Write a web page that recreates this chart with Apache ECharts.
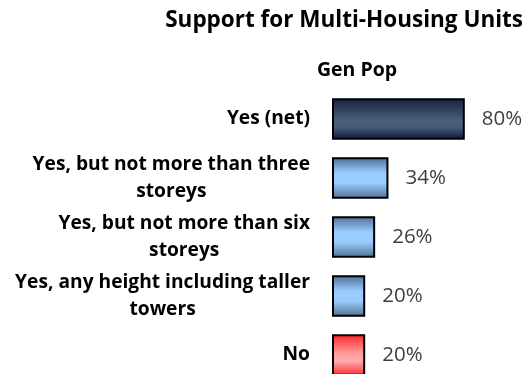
<!DOCTYPE html>
<html><head><meta charset="utf-8">
<script src="https://cdn.jsdelivr.net/npm/echarts@6/dist/echarts.min.js"></script>
<style>html,body{margin:0;padding:0;background:#fff}#c{width:527px;height:374px}</style>
</head><body><div id="c"></div>
<script>
const categories = ['Yes (net)', 'Yes, but not more than three\nstoreys', 'Yes, but not more than six\nstoreys', 'Yes, any height including taller\ntowers', 'No'];
const values = [80, 34, 26, 20, 20];
const barKinds = ['dark', 'light', 'light', 'light', 'red'];

function grad(stops) {
  return {type: 'linear', x: 0, y: 0, x2: 0, y2: 1, colorStops: stops.map(s => ({offset: s[0], color: s[1]}))};
}
const fills = {
  dark: grad([[0, '#18223e'], [0.55, '#4b607c'], [0.7, '#485c78'], [1, '#0c1538']]),
  light: grad([[0, '#4d6d93'], [0.38, '#99ccff'], [0.62, '#99ccff'], [1, '#50708f']]),
  red: grad([[0, '#ff2424'], [0.45, '#ff9a9a'], [0.65, '#ffaaaa'], [1, '#ff2a2a']])
};
const FONT = 'Open Sans';

const chart = echarts.init(document.getElementById('c'), null, {renderer: 'canvas'});
chart.setOption({
  animation: false,
  title: [
    {text: 'Support for Multi-Housing Units', right: 4, top: 9, padding: 0,
     textStyle: {fontFamily: FONT, fontWeight: 'bold', fontSize: 22.5, color: '#000'}},
    {text: 'Gen Pop', left: 357, textAlign: 'center', top: 60, padding: 0,
     textStyle: {fontFamily: FONT, fontWeight: 'bold', fontSize: 19.5, color: '#000'}}
  ],
  grid: {left: 332, top: 89.5, width: 166, height: 295, outerBoundsMode: 'none', containLabel: false},
  xAxis: {type: 'value', min: 0, max: 100, show: false},
  yAxis: {
    type: 'category', inverse: true, data: categories,
    axisLine: {show: false}, axisTick: {show: false},
    axisLabel: {
      margin: 22, align: 'right',
      formatter: v => v.split('\n').map(s => '{c|' + s + '}').join('\n'),
      rich: {c: {align: 'center', fontFamily: FONT, fontWeight: 'bold', fontSize: 19.2, lineHeight: 27, color: '#000'}}
    }
  },
  series: [{
    type: 'bar', barCategoryGap: '30%',
    data: values.map((v, i) => ({value: v, itemStyle: {color: fills[barKinds[i]]}})),
    itemStyle: {borderColor: '#000', borderWidth: 2},
    label: {show: true, position: 'right', distance: 17, formatter: '{c}%',
      fontFamily: FONT, fontSize: 20.5, color: '#404040'}
  }]
});
</script></body></html>
